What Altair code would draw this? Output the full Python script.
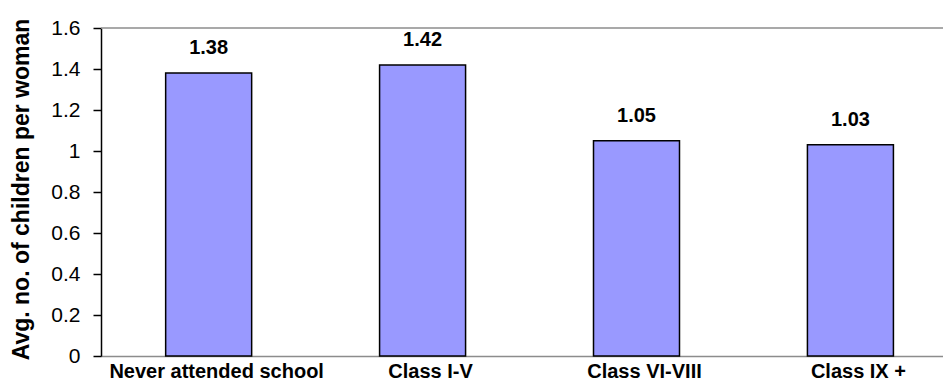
import altair as alt
import pandas as pd

# Average number of children per woman by educational attainment
categories = ["Never attended school", "Class I-V", "Class VI-VIII", "Class IX +"]
avg_children = [1.38, 1.42, 1.05, 1.03]
y_ticks = [0, 0.2, 0.4, 0.6, 0.8, 1.0, 1.2, 1.4, 1.6]
y_max = 1.6

df = pd.DataFrame({"level": categories, "value": avg_children})
top_df = pd.DataFrame({"top": [y_max]})

FONT = "Liberation Sans"

x_enc = alt.X(
    "level:N",
    sort=categories,
    scale=alt.Scale(paddingInner=0.598, paddingOuter=0.267, align=0.566),
    axis=alt.Axis(
        title=None,
        labelAngle=0,
        labelFont=FONT,
        labelFontSize=20,
        labelFontWeight="bold",
        labelColor="black",
        labelPadding=5,
        labelOffset=8,
        labelLimit=0,
        labelOverlap=False,
        ticks=False,
        domainColor="#8c8c8c",
        domainWidth=1.5,
    ),
)

y_enc = alt.Y(
    "value:Q",
    scale=alt.Scale(domain=[0, y_max], nice=False),
    axis=alt.Axis(
        title="Avg. no. of children per woman",
        titleFont=FONT,
        titleFontSize=23,
        titleFontWeight="bold",
        titleColor="black",
        titleAngle=270,
        titleBaseline="alphabetic",
        titleAlign="center",
        titleX=-73,
        titleY=161,
        values=y_ticks,
        format="~g",
        labelFont=FONT,
        labelFontSize=21,
        labelColor="black",
        labelPadding=13,
        tickSize=8,
        tickColor="black",
        tickWidth=1.5,
        domainColor="black",
        domainWidth=1.5,
        grid=False,
    ),
)

bars = alt.Chart(df).mark_bar(
    color="#9999FF", stroke="black", strokeWidth=1.5
).encode(x=x_enc, y=y_enc)

labels = alt.Chart(df).mark_text(
    font=FONT, fontSize=20, fontWeight="bold", color="black",
    baseline="alphabetic", dy=-19,
).encode(
    x=alt.X("level:N", sort=categories),
    y="value:Q",
    text=alt.Text("value:Q", format=".2f"),
)

top_line = alt.Chart(top_df).mark_rule(
    color="#8c8c8c", strokeWidth=1.5
).encode(y=alt.Y("top:Q"))

chart = (
    alt.layer(top_line, bars, labels)
    .properties(
        width=842,
        height=328,
        autosize=alt.AutoSizeParams(type="none"),
        padding={"left": 101, "top": 28, "right": 0, "bottom": 34},
        background="white",
    )
    .configure_view(stroke=None)
)

chart.save("out.html", embed_options={"renderer": "svg", "actions": False})
